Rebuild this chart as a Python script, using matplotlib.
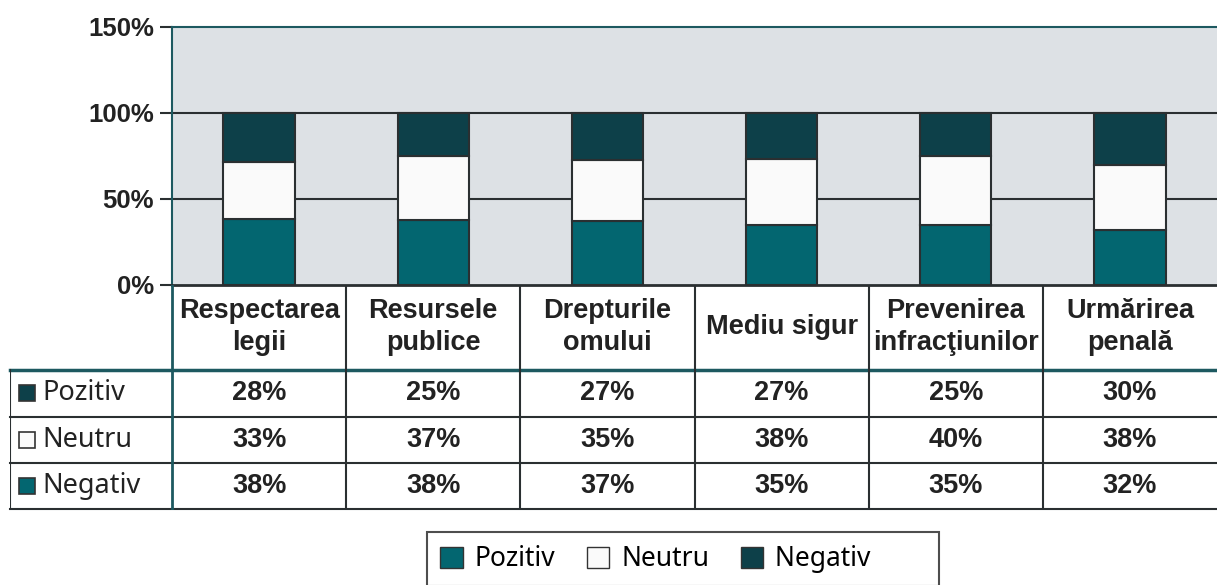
import numpy as np
import matplotlib.pyplot as plt
from matplotlib.patches import Patch, Rectangle

# date din grafic
categorii = ['Respectarea\nlegii', 'Resursele\npublice', 'Drepturile\nomului',
             'Mediu sigur', 'Prevenirea\ninfracţiunilor', 'Urmărirea\npenală']
pozitiv = [28, 25, 27, 27, 25, 30]
neutru = [33, 37, 35, 38, 40, 38]
negativ = [38, 38, 37, 35, 35, 32]
rand_etichete = ['Pozitiv', 'Neutru', 'Negativ']
yticks = [0, 50, 100, 150]

teal = '#036670'
dark = '#0d4049'
white = '#fafafa'
bg = '#dde1e5'
line = '#2a2f31'
tline = '#1d5960'

W, H = 1217, 585
fig = plt.figure(figsize=(W / 100, H / 100), dpi=100)

# axa graficului
ax = fig.add_axes([172 / W, 1 - 285 / H, (W - 172) / W, 258 / H])
ax.set_facecolor(bg)
x = np.arange(len(categorii))
tot = np.array(pozitiv) + np.array(neutru) + np.array(negativ)
jos = np.array(negativ) / tot * 100
mij = np.array(neutru) / tot * 100
sus = np.array(pozitiv) / tot * 100
bw = 0.41
ax.bar(x, jos, bw, color=teal, edgecolor=line, linewidth=1.5, zorder=3)
ax.bar(x, mij, bw, bottom=jos, color=white, edgecolor=line, linewidth=1.5, zorder=3)
ax.bar(x, sus, bw, bottom=jos + mij, color=dark, edgecolor=line, linewidth=1.5, zorder=3)
ax.set_xlim(-0.5, len(categorii) - 0.5)
ax.set_ylim(0, 150)
ax.set_yticks(yticks)
ax.set_yticklabels(['%d%%' % v for v in yticks], fontsize=18.5, fontweight='bold',
                   family='Liberation Sans', color='#222')
ax.tick_params(axis='y', length=9, width=1.5, color=line, pad=4)
ax.set_xticks([])
for v in [50, 100]:
    ax.axhline(v, color=line, lw=1.5, zorder=1)
ax.spines['right'].set_visible(False)
ax.spines['top'].set_color(tline)
ax.spines['top'].set_linewidth(1.5)
ax.spines['left'].set_color(tline)
ax.spines['left'].set_linewidth(1.5)
ax.spines['bottom'].set_color(line)
ax.spines['bottom'].set_linewidth(2)

# tabelul de sub grafic
cw = (W - 172) / len(categorii)
tax = fig.add_axes([10 / W, 1 - 510 / H, (W - 10) / W, 225 / H])
tax.set_xlim(-0.5 - 162 / cw, len(categorii) - 0.5)
tax.set_ylim(225, 0)
tax.axis('off')
x0 = -0.5 - 162 / cw
xe = len(categorii) - 0.5
tax.plot([x0, xe], [85, 85], color=tline, lw=2.5, clip_on=False)
for yy in [132, 178, 224]:
    tax.plot([x0, xe], [yy, yy], color=line, lw=1.5, clip_on=False)
tax.plot([x0, x0], [85, 224], color=line, lw=1.5)
tax.plot([-0.5, -0.5], [0, 224], color=tline, lw=2)
for i in range(1, len(categorii)):
    tax.plot([i - 0.5, i - 0.5], [0, 224], color=line, lw=1.5)

for i, c in enumerate(categorii):
    tax.text(i, 42, c, ha='center', va='center', fontsize=19.5, fontweight='bold',
             family='Liberation Sans', color='#222', linespacing=1.3)

randuri = [pozitiv, neutru, negativ]
culori_rand = [dark, white, teal]
for r, (et, vals, col) in enumerate(zip(rand_etichete, randuri, culori_rand)):
    yc = 85 + 23.3 + r * 46.5
    tax.add_patch(Rectangle((x0 + 9 / cw, yc - 8), 16 / cw, 16, facecolor=col,
                            edgecolor='#333', lw=1.2))
    tax.text(x0 + 32 / cw, yc, et, ha='left', va='center', fontsize=19.5,
             family='Noto Sans', fontweight='medium', color='#222')
    for i, v in enumerate(vals):
        tax.text(i, yc, '%d%%' % v, ha='center', va='center', fontsize=19.5,
                 fontweight='bold', family='Liberation Sans', color='#222')

# legenda
handles = [Patch(facecolor=teal, edgecolor='#333', label='Pozitiv'),
           Patch(facecolor=white, edgecolor='#333', label='Neutru'),
           Patch(facecolor=dark, edgecolor='#333', label='Negativ' + '\u00a0' * 8)]
leg = fig.legend(handles=handles, loc='upper left', bbox_to_anchor=(427 / W, 1 - 532 / H),
                 ncol=3, frameon=True, fancybox=False, prop={'family': 'Noto Sans', 'size': 19},
                 handlelength=0.85, handleheight=0.85, handletextpad=0.45, columnspacing=1.2,
                 borderpad=0.5, borderaxespad=0)
leg.get_frame().set_edgecolor('#222')
leg.get_frame().set_linewidth(1.5)

fig.savefig('out.png', dpi=100)
